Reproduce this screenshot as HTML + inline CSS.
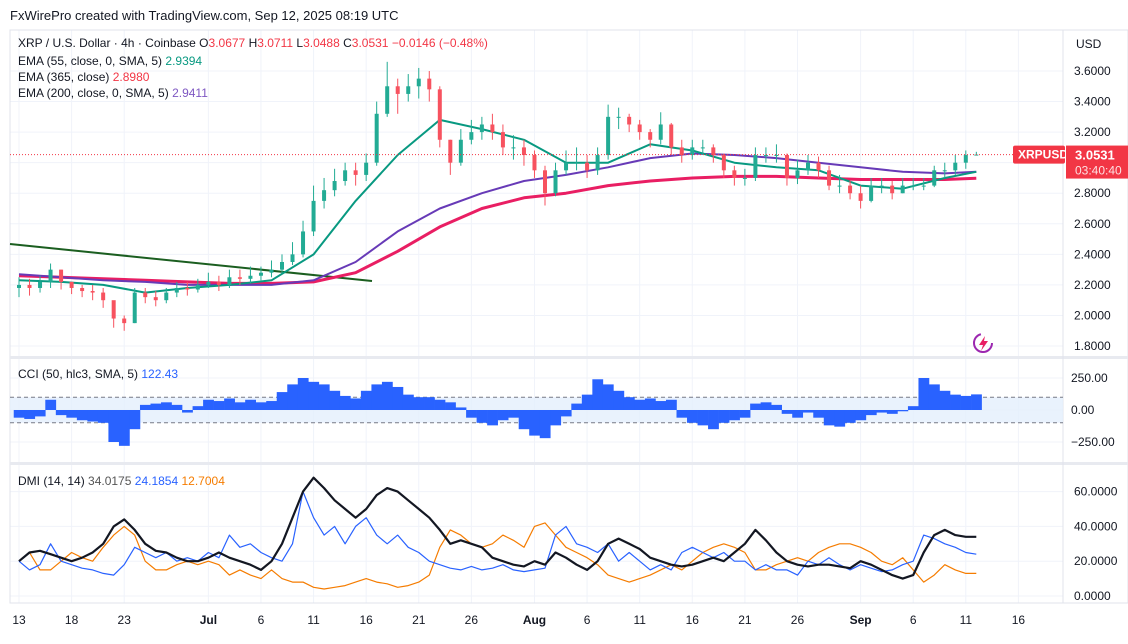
<!DOCTYPE html>
<html><head><meta charset="utf-8"><style>
body{margin:0;background:#fff;font-family:"Liberation Sans",sans-serif;}
svg text{font-family:"Liberation Sans",sans-serif;}
</style></head><body>
<svg id="c" width="1128" height="639" xmlns="http://www.w3.org/2000/svg">
<rect width="1128" height="639" fill="#fff"/>
<text x="10" y="20" font-size="13" fill="#131722">FxWirePro created with TradingView.com, Sep 12, 2025 08:19 UTC</text>
<g id="grid"></g>
<g id="panes"></g>
<g id="marks"></g>
<g id="legend" font-size="12">
<text x="18" y="47" fill="#131722">XRP / U.S. Dollar · 4h · Coinbase  O<tspan fill="#f23645">3.0677</tspan> H<tspan fill="#f23645">3.0711</tspan> L<tspan fill="#f23645">3.0488</tspan> C<tspan fill="#f23645">3.0531</tspan> <tspan fill="#f23645">−0.0146 (−0.48%)</tspan></text>
<text x="18" y="65" fill="#131722">EMA (55, close, 0, SMA, 5) <tspan fill="#089981">2.9394</tspan></text>
<text x="18" y="81" fill="#131722">EMA (365, close) <tspan fill="#f23645">2.8980</tspan></text>
<text x="18" y="97" fill="#131722">EMA (200, close, 0, SMA, 5) <tspan fill="#7e57c2">2.9411</tspan></text>
<text x="18" y="378" fill="#131722">CCI (50, hlc3, SMA, 5) <tspan fill="#2962ff">122.43</tspan></text>
<text x="18" y="485" fill="#131722">DMI (14, 14) <tspan fill="#555">34.0175</tspan> <tspan fill="#2962ff">24.1854</tspan> <tspan fill="#f57c00">12.7004</tspan></text>
</g>
<g id="axes" font-size="12" fill="#131722"></g>
</svg>
<script>
// ---- data (daily, Jun 13 .. Sep 12) ----
const closes=[2.20,2.18,2.22,2.30,2.22,2.18,2.16,2.15,2.10,1.98,1.95,2.15,2.12,2.10,2.15,2.18,2.17,2.20,2.22,2.20,2.25,2.24,2.26,2.28,2.30,2.35,2.40,2.55,2.75,2.82,2.88,2.95,2.92,3.00,3.32,3.50,3.45,3.50,3.55,3.48,3.15,3.00,3.15,3.20,3.25,3.20,3.10,3.10,3.05,2.95,2.80,2.95,3.00,3.00,2.95,3.05,3.30,3.30,3.25,3.20,3.15,3.25,3.10,3.05,3.10,3.10,3.05,2.95,2.90,2.90,3.05,3.05,3.05,2.90,2.95,3.00,2.95,2.85,2.85,2.80,2.75,2.85,2.85,2.80,2.85,2.85,2.85,2.95,2.95,3.00,3.05,3.053];
const highs=[2.25,2.24,2.26,2.34,2.30,2.22,2.20,2.20,2.18,2.05,2.00,2.18,2.18,2.16,2.18,2.22,2.22,2.24,2.28,2.26,2.30,2.30,2.32,2.32,2.36,2.40,2.48,2.62,2.85,2.90,2.96,3.00,3.00,3.06,3.40,3.66,3.55,3.58,3.62,3.60,3.50,3.15,3.22,3.28,3.30,3.32,3.25,3.18,3.15,3.08,2.98,3.00,3.08,3.10,3.05,3.10,3.38,3.36,3.32,3.28,3.22,3.33,3.26,3.15,3.15,3.15,3.12,3.06,2.98,2.96,3.10,3.10,3.12,3.06,3.02,3.05,3.04,2.98,2.92,2.88,2.85,2.90,2.90,2.88,2.90,2.90,2.90,2.98,3.00,3.05,3.08,3.071];
const lows=[2.12,2.13,2.15,2.18,2.17,2.14,2.12,2.10,2.05,1.92,1.90,1.95,2.08,2.06,2.08,2.12,2.13,2.15,2.18,2.16,2.18,2.20,2.21,2.23,2.25,2.28,2.33,2.38,2.52,2.70,2.78,2.85,2.85,2.88,2.98,3.30,3.32,3.40,3.42,3.40,3.10,2.92,2.98,3.12,3.15,3.15,3.05,3.02,2.98,2.90,2.72,2.78,2.92,2.95,2.90,2.92,3.02,3.22,3.20,3.15,3.10,3.12,3.05,3.00,3.02,3.05,3.00,2.90,2.85,2.85,2.88,3.00,3.00,2.85,2.86,2.92,2.90,2.82,2.80,2.76,2.70,2.74,2.80,2.76,2.80,2.82,2.82,2.84,2.90,2.92,2.96,3.049];
const emaDays=[0,4,8,12,16,20,24,28,32,36,40,44,48,52,56,60,64,68,72,76,80,84,88,91];
const ema55=[2.23,2.22,2.20,2.15,2.18,2.20,2.23,2.40,2.75,3.05,3.28,3.22,3.15,3.00,3.00,3.12,3.08,3.00,2.97,2.95,2.85,2.83,2.90,2.94];
const ema200=[2.27,2.25,2.23,2.22,2.20,2.20,2.20,2.23,2.35,2.55,2.70,2.80,2.88,2.92,2.97,3.03,3.06,3.05,3.03,3.00,2.97,2.94,2.93,2.94];
const ema365=[2.26,2.25,2.24,2.23,2.22,2.21,2.21,2.22,2.28,2.42,2.58,2.70,2.77,2.80,2.85,2.88,2.90,2.91,2.91,2.90,2.89,2.89,2.89,2.898];
const cci=[-60,-70,-50,80,-40,-60,-80,-90,-100,-250,-280,-150,40,50,60,40,-20,30,80,70,90,60,80,60,70,140,200,250,220,200,150,110,90,150,200,220,180,120,100,100,80,60,20,-60,-100,-120,-80,-60,-150,-200,-220,-120,-50,50,120,240,200,150,100,80,90,70,80,-60,-100,-120,-150,-100,-80,-60,50,60,40,-30,-60,-20,-60,-120,-130,-100,-80,-40,-20,-30,-10,30,250,200,150,120,110,122];
const adx=[20,25,26,24,22,20,22,25,30,40,44,38,30,26,25,22,20,20,22,25,22,20,18,15,20,30,45,60,68,62,55,50,45,50,58,62,60,55,50,45,38,30,32,30,28,22,20,18,17,20,18,25,22,18,15,20,30,33,30,27,22,20,18,17,18,20,22,20,25,30,38,32,25,20,18,17,18,18,17,16,20,18,15,12,10,12,25,35,38,35,34,34];
const pdi=[20,15,18,30,20,18,16,15,13,12,18,28,25,22,25,20,22,20,25,22,35,28,30,25,22,20,30,60,45,35,40,30,40,45,35,30,35,28,25,20,18,16,15,17,15,16,18,15,14,15,16,35,40,30,28,25,30,20,25,20,15,18,15,25,28,25,22,25,20,20,15,18,15,15,12,20,18,22,18,15,18,16,14,15,18,20,35,33,30,28,25,24];
const mdi=[20,25,15,15,20,25,22,20,28,35,40,35,20,15,15,18,20,18,20,18,12,15,12,10,15,10,8,8,5,4,5,6,8,10,8,7,5,6,8,12,28,38,35,30,28,30,35,32,28,40,42,35,28,25,22,18,12,10,8,10,12,15,18,15,20,25,28,30,28,25,15,15,18,20,22,20,25,28,30,30,28,25,20,18,22,15,8,12,18,15,13,13];
const priceTicks=[3.6,3.4,3.2,3.0,2.8,2.6,2.4,2.2,2.0,1.8];
const cciTicks=[250,0,-250];
const dmiTicks=[60,40,20,0];
const timeLabels=["13","18","23","Jul","6","11","16","21","26","Aug","6","11","16","21","26","Sep","6","11","16"];
const timeDays=[0,5,10,18,23,28,33,38,43,49,54,59,64,69,74,80,85,90,95];

// ---- scales ----
const X=d=>19+d*10.52;
const YP=p=>71+(3.6-p)*152.8;
const YC=v=>410-v*32/250;
const YD=v=>596-v*1.74;
const NS="http://www.w3.org/2000/svg";
function mk(tag,attrs,parent){const e=document.createElementNS(NS,tag);for(const k in attrs)e.setAttribute(k,attrs[k]);parent.appendChild(e);return e;}
const grid=document.getElementById('grid'),panes=document.getElementById('panes'),marks=document.getElementById('marks'),axes=document.getElementById('axes');
const R=1063;
timeDays.forEach(d=>{const l=mk('line',{x1:X(d),x2:X(d),y1:30,y2:603,stroke:'#f0f3fa'},grid);});
priceTicks.forEach(p=>{const l=mk('line',{x1:10,x2:R,y1:YP(p),y2:YP(p),stroke:'#f0f3fa'},grid);});
cciTicks.forEach(p=>{const l=mk('line',{x1:10,x2:R,y1:YC(p),y2:YC(p),stroke:'#f0f3fa'},grid);});
dmiTicks.forEach(p=>{const l=mk('line',{x1:10,x2:R,y1:YD(p),y2:YD(p),stroke:'#f0f3fa'},grid);});
[[10,30,1118,573]].forEach(r=>{const e=mk('rect',{x:r[0],y:r[1],width:r[2],height:r[3],fill:'none',stroke:'#e0e3eb'},panes);});
[357,463].forEach(y=>{const e=mk('rect',{x:10,y:y-1,width:1118,height:3,fill:'#e8eaf0'},panes);});
const ax=mk('line',{x1:R,x2:R,y1:30,y2:603,stroke:'#e0e3eb'},panes);
const band=mk('rect',{x:10,y:YC(100),width:R-10,height:YC(-100)-YC(100),fill:'#e3effd',opacity:0.8},panes);
[100,-100].forEach(v=>{const l=mk('line',{x1:10,x2:R,y1:YC(v),y2:YC(v),stroke:'#787b86','stroke-dasharray':'4 3'},panes);});
const tl=mk('line',{x1:10,y1:244,x2:372,y2:281,stroke:'#1b5e20','stroke-width':2},marks);
function path(days,vals,Y){return vals.map((v,i)=>(i?'L':'M')+X(days[i]).toFixed(1)+' '+Y(v).toFixed(1)).join(' ');}
[[ema365,'#e91e63',3,'ema365-line'],[ema200,'#673ab7',2,'ema200-line'],[ema55,'#089981',2,'ema55-line']].forEach(a=>{const p=mk('path',{d:path(emaDays,a[0],YP),fill:'none',stroke:a[1],'stroke-width':a[2],'stroke-linejoin':'round'},marks);});
for(let i=0;i<closes.length;i++){
 const o=i?closes[i-1]:closes[0]-0.02,c=closes[i],up=c>=o,col=up?'#22ab94':'#f7525f';
 const w=mk('line',{x1:X(i),x2:X(i),y1:YP(highs[i]),y2:YP(lows[i]),stroke:col},marks);
 
 const b=mk('rect',{x:X(i)-2,y:YP(Math.max(o,c)),width:4,height:Math.max(1,Math.abs(YP(o)-YP(c))),fill:col},marks);
 
}
const pl=mk('line',{x1:10,x2:R,y1:YP(3.0531),y2:YP(3.0531),stroke:'#f23645','stroke-dasharray':'1 2'},marks);
const cw=10.52;
cci.forEach((v,i)=>{const y0=YC(0),y1=YC(v);const r=mk('rect',{x:X(i)-cw/2,y:Math.min(y0,y1),width:cw+0.3,height:Math.abs(y1-y0),fill:'#2962ff'},marks);});
const dd=adx.map((_,i)=>i);
[[mdi,'#f57c00',1.2,'minus-di-line'],[pdi,'#2962ff',1.2,'plus-di-line'],[adx,'#131722',2.2,'adx-line']].forEach(a=>{const p=mk('path',{d:path(dd,a[0],YD),fill:'none',stroke:a[1],'stroke-width':a[2],'stroke-linejoin':'round'},marks);});
priceTicks.forEach(p=>{const t=mk('text',{x:1074,y:YP(p)+4},axes);t.textContent=p.toFixed(4);});
cciTicks.forEach(p=>{const t=mk('text',{x:1071,y:YC(p)+4},axes);t.textContent=(p<0?'−':'')+Math.abs(p).toFixed(2);});
dmiTicks.forEach(p=>{const t=mk('text',{x:1074,y:YD(p)+4},axes);t.textContent=p.toFixed(4);});
timeLabels.forEach((s,i)=>{const t=mk('text',{x:X(timeDays[i]),y:624,'text-anchor':'middle','font-weight':(isNaN(+s)?'bold':'normal')},axes);t.textContent=s;});
const usd=mk('text',{x:1076,y:48},axes);usd.textContent='USD';
const py=YP(3.0531);
const g1=mk('rect',{x:1013,y:py-9,width:52,height:18,fill:'#f23645',rx:2},axes);
const t1=mk('text',{x:1018,y:py+4,fill:'#fff','font-weight':'bold'},axes);t1.textContent='XRPUSD';
const g2=mk('rect',{x:1066,y:py-9,width:62,height:33,fill:'#f23645'},axes);
const t2=mk('text',{x:1075,y:py+5,fill:'#fff','font-weight':'bold','font-size':13},axes);t2.textContent='3.0531';
const t3=mk('text',{x:1075,y:py+20,fill:'#fde0e2'},axes);t3.textContent='03:40:40';
const ic=mk('circle',{cx:983,cy:343,r:9,fill:'none',stroke:'#9c27b0','stroke-width':2,'stroke-dasharray':'40 17'},axes);
const bolt=mk('path',{d:'M985 336 L979 345 L983 345 L981 351 L988 341 L984 341 Z',fill:'#e91e63'},axes);
</script>
</body></html>
